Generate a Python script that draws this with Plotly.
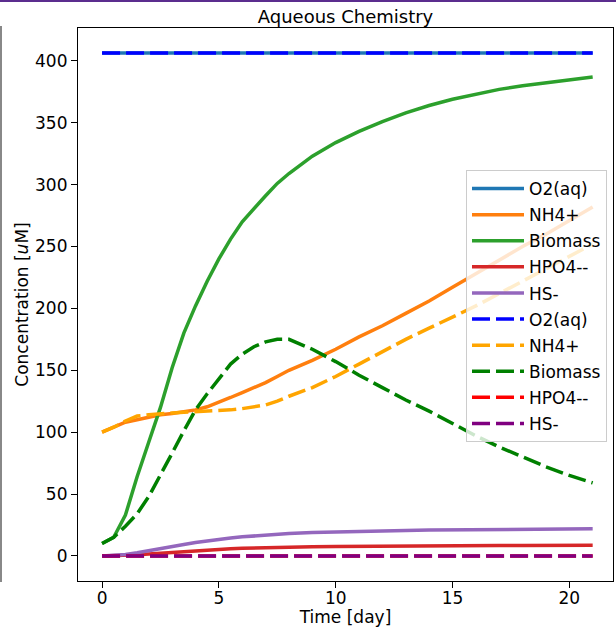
import plotly.graph_objects as go

# ---- data ----
time_day = [0, 0.5, 1, 1.5, 2, 2.5, 3, 3.5, 4, 4.5, 5, 5.5, 6, 6.5, 7, 7.5, 8,
            9, 10, 11, 12, 13, 14, 15, 16, 17, 18, 19, 20, 21]

o2_solid = [406.3] * 30
nh4_solid = [100, 104, 108, 110, 112, 114, 115, 116.5, 118, 120.5, 124, 128, 132, 136, 140, 145, 150,
             158, 167, 177, 186, 196, 206, 217, 228, 239, 250, 260, 271, 282]
biomass_solid = [10, 15, 33, 64, 92, 120, 152, 180, 202, 222, 240, 256, 270, 281, 291, 301, 309,
                 323, 334, 343, 351, 358, 364, 369, 373, 377, 380, 382.5, 385, 387]
hpo4_solid = [0, 0.1, 0.4, 0.9, 1.5, 2.2, 2.9, 3.6, 4.2, 4.8, 5.3, 5.7, 6.1, 6.4, 6.7, 6.9, 7.1,
              7.4, 7.6, 7.8, 7.9, 8.0, 8.1, 8.2, 8.3, 8.35, 8.4, 8.45, 8.5, 8.5]
hs_solid = [0, 0.3, 1.2, 2.5, 4, 5.8, 7.5, 9.2, 10.8, 12.2, 13.5, 14.5, 15.4, 16.2, 16.9, 17.5, 18,
            18.8, 19.4, 19.9, 20.3, 20.6, 20.9, 21.1, 21.3, 21.5, 21.6, 21.7, 21.8, 21.9]

o2_dashed = [406.3] * 30
nh4_dashed = [100, 104, 109, 113, 114, 115, 115.5, 116, 116.5, 116.8, 117, 118, 119, 120.5, 122, 125, 129,
              136, 145, 155, 165, 175, 184, 193, 202, 212, 222, 232, 242, 252]
biomass_dashed = [10, 15, 24, 34, 48, 65, 83, 101, 118, 131, 143, 155, 163, 169, 173, 175, 175,
                  167, 157, 146, 136, 126, 117, 107, 97, 88, 80, 72, 65, 59]
hpo4_dashed = [0] * 30
hs_dashed = [0] * 30

names = ["O2(aq)", "NH4+", "Biomass", "HPO4--", "HS-"]
solid_series = [o2_solid, nh4_solid, biomass_solid, hpo4_solid, hs_solid]
dashed_series = [o2_dashed, nh4_dashed, biomass_dashed, hpo4_dashed, hs_dashed]
solid_colors = ["#1f77b4", "#ff7f0e", "#2ca02c", "#d62728", "#9467bd"]
dashed_colors = ["#0000ff", "#ffa500", "#008000", "#ff0000", "#800080"]

FONT = "DejaVu Sans"
fig = go.Figure()
g = 0
for nm, ys, c in zip(names, solid_series, solid_colors):
    fig.add_trace(go.Scatter(x=time_day, y=ys, mode="lines", name=nm, legendgroup=f"g{g:02d}",
                             line=dict(color=c, width=3.5)))
    g += 1
for nm, ys, c in zip(names, dashed_series, dashed_colors):
    fig.add_trace(go.Scatter(x=time_day, y=ys, mode="lines", name=nm, legendgroup=f"g{g:02d}",
                             line=dict(color=c, width=3.5, dash="18px,6px")))
    g += 1

L, R, T, B = 78, 3, 28, 50
W, H = 616, 631
pw, ph = W - L - R, H - T - B

axis_common = dict(showline=True, linecolor="black", linewidth=1.2, mirror=True,
                   ticks="outside", ticklen=6, tickcolor="black", tickwidth=1.2,
                   showgrid=False, zeroline=False,
                   tickfont=dict(family=FONT, size=17, color="black"))

fig.update_layout(
    width=W, height=H,
    margin=dict(l=L, r=R, t=T, b=B, autoexpand=False),
    paper_bgcolor="white", plot_bgcolor="white",
    font=dict(family=FONT, size=17, color="black"),
    title=dict(text="Aqueous Chemistry", x=0.5, xref="paper", xanchor="center",
               y=1 - 17 / H, yref="container", yanchor="middle",
               font=dict(family=FONT, size=18, color="black")),
    xaxis=dict(range=[-1.03, 21.87], tickvals=[0, 5, 10, 15, 20], ticklabelstandoff=-5,
               title=dict(text="Time [day]", standoff=0, font=dict(family=FONT, size=17)),
               **axis_common),
    yaxis=dict(range=[-20.3, 426.6], tickvals=[0, 50, 100, 150, 200, 250, 300, 350, 400],
               title=dict(text="Concentration [<i>u</i>M]", standoff=2, font=dict(family=FONT, size=17)),
               **axis_common),
    legend=dict(x=(607 - L) / pw, xanchor="right", y=1 - (170 - T) / ph, yanchor="top",
                bgcolor="rgba(255,255,255,0.8)", bordercolor="#cccccc", borderwidth=1,
                font=dict(family=FONT, size=17, color="black"),
                tracegroupgap=1, itemwidth=52, traceorder="grouped"),
    showlegend=True,
    shapes=[
        dict(type="line", xref="paper", yref="paper", x0=-L / pw, x1=1 + R / pw,
             y0=1 + (T - 1) / ph, y1=1 + (T - 1) / ph, line=dict(color="#5b2d8e", width=2)),
        dict(type="line", xref="paper", yref="paper", x0=(1 - L) / pw, x1=(1 - L) / pw,
             y0=1 + 2 / ph, y1=-1 / ph, line=dict(color="#888888", width=2)),
    ],
)

fig.write_html("out.html")
